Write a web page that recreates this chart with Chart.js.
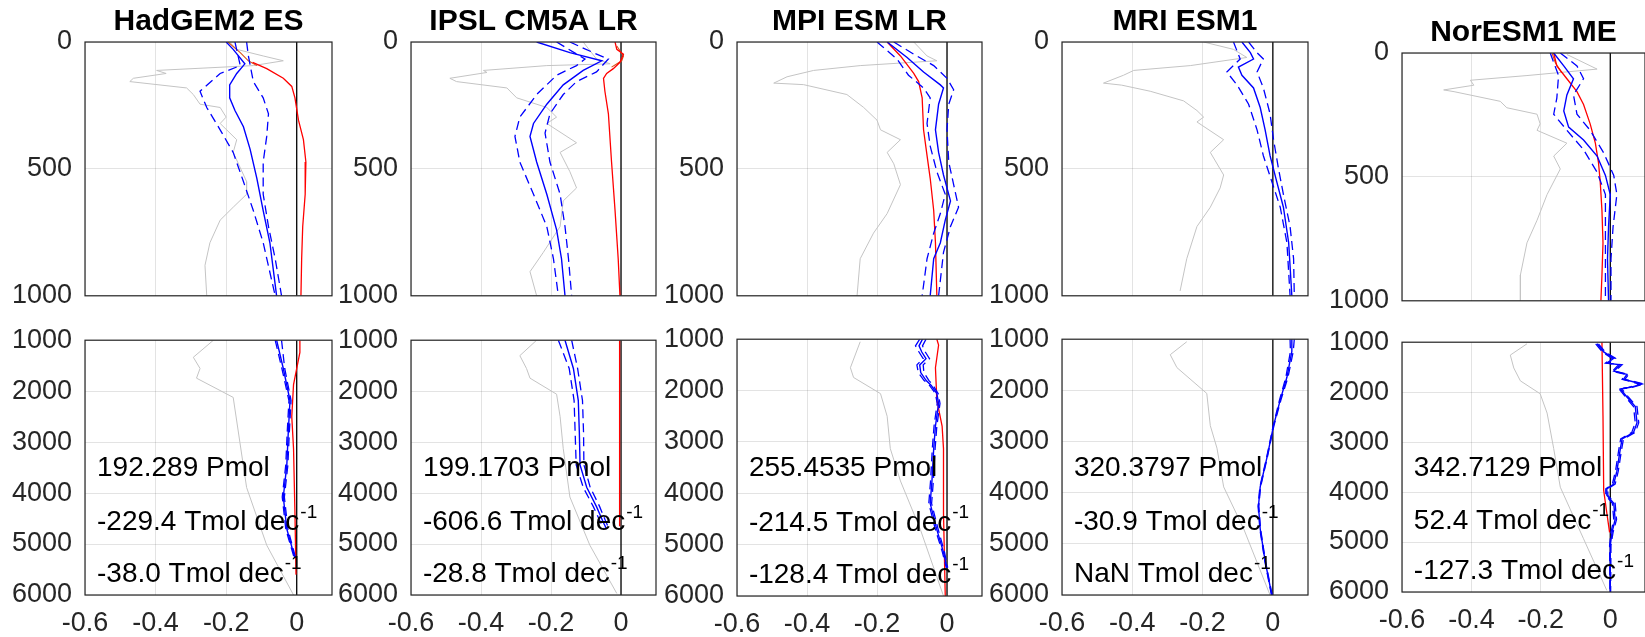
<!DOCTYPE html>
<html>
<head>
<meta charset="utf-8">
<script src="https://cdn.jsdelivr.net/npm/chart.js@4.4.1/dist/chart.umd.min.js"></script>
<style>
  body { margin: 0; background: #fff; width: 1645px; height: 637px; overflow: hidden; position: relative; }
  canvas { position: absolute; }
</style>
</head>
<body>
<script>
/* ===== DATA ===== */
// every profile is a list of [value, depth] pairs

const models = ['HadGEM2 ES', 'IPSL CM5A LR', 'MPI ESM LR', 'MRI ESM1', 'NorESM1 ME'];
const inventories = ['192.289', '199.1703', '255.4535', '320.3797', '342.7129'];
const trendsUpper = ['-229.4', '-606.6', '-214.5', '-30.9', '52.4'];
const trendsLower = ['-38.0', '-28.8', '-128.4', 'NaN', '-127.3'];

const xTicks = [-0.6, -0.4, -0.2, 0];
const depthTicksTop = [0, 500, 1000];
const depthTicksBottom = [1000, 2000, 3000, 4000, 5000, 6000];
const noteX = -0.566;
const noteDepths = [3520, 4580, 5590];

const zeroTop = [[0, 0], [0, 1000]];
const zeroBot = [[0, 1000], [0, 6000]];

// HadGEM2 ES
const hadGrayTop = [[-0.19,0],[-0.17,29],[-0.095,55],[-0.038,74],[-0.123,93],[-0.397,112],[-0.37,124],[-0.463,143],[-0.473,156],[-0.312,181],[-0.293,207],[-0.274,245],[-0.217,258],[-0.2,296],[-0.217,321],[-0.17,385],[-0.18,435],[-0.142,550],[-0.142,600],[-0.18,651],[-0.217,702],[-0.246,791],[-0.26,880],[-0.255,1000]];
const hadOrangeTop = [[-0.195,0],[-0.16,42],[-0.137,74],[-0.113,93]];
const hadRedTop = [[-0.125,80],[-0.085,105],[-0.038,143],[-0.014,175],[-0.005,220],[0.005,308],[0.019,385],[0.026,473],[0.024,600],[0.017,727],[0.014,854],[0.012,1000]];
const hadBlueTop = [[-0.2,0],[-0.18,29],[-0.147,86],[-0.17,124],[-0.19,169],[-0.19,220],[-0.175,270],[-0.151,334],[-0.132,423],[-0.113,537],[-0.095,664],[-0.076,791],[-0.057,1000]];
const hadLowTop = [[-0.175,0],[-0.16,93],[-0.217,124],[-0.274,194],[-0.255,258],[-0.217,346],[-0.18,435],[-0.151,550],[-0.123,664],[-0.095,791],[-0.061,1000]];
const hadHighTop = [[-0.142,0],[-0.137,55],[-0.123,156],[-0.095,220],[-0.08,283],[-0.085,372],[-0.095,473],[-0.095,600],[-0.08,727],[-0.061,854],[-0.043,1000]];
const hadGrayBot = [[-0.236,1000],[-0.293,1335],[-0.274,1555],[-0.284,1745],[-0.18,2122],[-0.161,3005],[-0.142,3890],[-0.085,5023],[-0.009,6000]];
const hadRedBot = [[0.009,1000],[0.009,1240],[-0.009,1870],[-0.014,2500],[-0.009,3130],[-0.005,4390],[-0.002,5600]];
const hadBlueBot = [[-0.057,1000],[-0.038,1555],[-0.019,2185],[-0.024,2815],[-0.028,3446],[-0.038,4077],[-0.028,4707],[-0.005,5275]];
const hadLowBot = [[-0.061,1000],[-0.042,1555],[-0.022,2185],[-0.027,2815],[-0.031,3446],[-0.041,4077],[-0.031,4707],[-0.007,5275]];
const hadHighBot = [[-0.043,1000],[-0.034,1555],[-0.016,2185],[-0.021,2815],[-0.025,3446],[-0.035,4077],[-0.025,4707],[-0.003,5275]];

// IPSL CM5A LR
const ipslGrayTop = [[-0.108,0],[-0.07,67],[-0.031,86],[-0.212,93],[-0.393,112],[-0.383,120],[-0.489,143],[-0.47,156],[-0.326,181],[-0.298,220],[-0.212,258],[-0.184,296],[-0.212,321],[-0.127,397],[-0.174,435],[-0.146,511],[-0.127,575],[-0.165,626],[-0.174,727],[-0.222,829],[-0.26,905],[-0.241,1000]];
const ipslOrangeTop = [[-0.012,16],[0.007,55],[0.002,74],[-0.027,99]];
const ipslRedTop = [[-0.017,0],[-0.012,29],[0.007,48],[-0.003,80],[-0.022,105],[-0.041,124],[-0.05,143],[-0.046,194],[-0.036,283],[-0.027,473],[-0.017,664],[-0.008,854],[-0.003,1000]];
const ipslBlueTop = [[-0.241,0],[-0.146,42],[-0.055,74],[-0.108,112],[-0.165,169],[-0.212,245],[-0.25,321],[-0.26,372],[-0.241,473],[-0.212,600],[-0.184,740],[-0.17,854],[-0.16,1000]];
const ipslLowTop = [[-0.184,0],[-0.103,67],[-0.127,93],[-0.184,131],[-0.241,207],[-0.289,296],[-0.303,372],[-0.289,473],[-0.25,600],[-0.212,727],[-0.193,854],[-0.179,1000]];
const ipslHighTop = [[-0.146,0],[-0.079,42],[-0.036,67],[-0.07,118],[-0.127,156],[-0.165,207],[-0.203,283],[-0.217,359],[-0.203,473],[-0.174,600],[-0.16,727],[-0.15,854],[-0.141,1000]];
const ipslGrayBot = [[-0.241,1000],[-0.289,1303],[-0.27,1555],[-0.26,1745],[-0.184,2060],[-0.174,2500],[-0.165,3130],[-0.146,4077],[-0.089,5023],[-0.012,5970]];
const ipslRedBot = [[-0.004,1000],[-0.004,4650]];
const ipslBlueBot = [[-0.16,1000],[-0.136,1555],[-0.122,2185],[-0.119,2815],[-0.117,3446],[-0.098,3887],[-0.07,4266],[-0.05,4581],[-0.041,4707]];
const ipslLowBot = [[-0.179,1000],[-0.148,1555],[-0.134,2185],[-0.131,2815],[-0.128,3446],[-0.108,3887],[-0.079,4266],[-0.058,4581],[-0.048,4707]];
const ipslHighBot = [[-0.141,1000],[-0.124,1555],[-0.11,2185],[-0.107,2815],[-0.106,3446],[-0.088,3887],[-0.061,4266],[-0.042,4581],[-0.034,4707]];

// MPI ESM LR
const mpiGrayTop = [[-0.095,0],[-0.057,55],[-0.029,74],[-0.248,93],[-0.381,112],[-0.457,137],[-0.495,162],[-0.41,168],[-0.286,207],[-0.238,258],[-0.2,308],[-0.19,346],[-0.133,385],[-0.171,435],[-0.152,480],[-0.133,562],[-0.171,676],[-0.21,753],[-0.248,854],[-0.257,1000]];
const mpiRedTop = [[-0.171,0],[-0.133,55],[-0.095,124],[-0.081,156],[-0.071,220],[-0.067,346],[-0.057,448],[-0.048,537],[-0.038,664],[-0.033,791],[-0.029,1000]];
const mpiBlueTop = [[-0.171,0],[-0.114,61],[-0.067,118],[-0.019,169],[-0.01,181],[-0.024,245],[-0.033,346],[-0.024,435],[-0.01,524],[0.01,626],[-0.005,702],[-0.019,791],[-0.038,854],[-0.048,1000]];
const mpiLowTop = [[-0.2,0],[-0.143,67],[-0.11,131],[-0.067,181],[-0.048,220],[-0.057,321],[-0.048,410],[-0.029,511],[-0.005,600],[-0.019,676],[-0.038,753],[-0.057,854],[-0.071,1000]];
const mpiHighTop = [[-0.152,0],[-0.095,48],[-0.038,93],[0,143],[0.019,188],[0.005,245],[0,346],[0.005,473],[0.019,562],[0.033,651],[0.01,727],[-0.01,829],[-0.024,1000]];
const mpiGrayBot = [[-0.248,1050],[-0.276,1555],[-0.267,1745],[-0.19,2060],[-0.171,2500],[-0.162,3130],[-0.133,3760],[-0.076,4707],[-0.01,6000]];
const mpiRedBot = [[-0.029,1000],[-0.024,1113],[-0.033,1555],[-0.029,2185],[-0.014,2690],[-0.01,3130],[-0.01,4390],[-0.005,6000]];
const mpiBlueBot = [[-0.07,1000],[-0.08,1130],[-0.072,1250],[-0.06,1380],[-0.078,1500],[-0.075,1650],[-0.06,1800],[-0.045,1900],[-0.029,2060],[-0.024,2250],[-0.033,2690],[-0.038,3130],[-0.043,3760],[-0.048,4200],[-0.029,4707],[-0.01,5150],[0,5450]];
const mpiLowBot = [[-0.078,1000],[-0.09,1130],[-0.08,1250],[-0.068,1380],[-0.086,1500],[-0.082,1650],[-0.066,1800],[-0.05,1900],[-0.033,2060],[-0.028,2250],[-0.037,2690],[-0.042,3130],[-0.047,3760],[-0.052,4200],[-0.033,4707],[-0.013,5150],[-0.002,5450]];
const mpiHighBot = [[-0.06,1000],[-0.07,1130],[-0.062,1250],[-0.05,1380],[-0.068,1500],[-0.066,1650],[-0.052,1800],[-0.04,1900],[-0.025,2060],[-0.02,2250],[-0.029,2690],[-0.034,3130],[-0.039,3760],[-0.044,4200],[-0.025,4707],[-0.007,5150],[0.002,5450]];

// MRI ESM1
const mriGrayTop = [[-0.197,0],[-0.112,29],[-0.074,61],[-0.235,93],[-0.396,112],[-0.425,131],[-0.482,162],[-0.43,170],[-0.349,194],[-0.254,232],[-0.216,270],[-0.197,296],[-0.216,315],[-0.14,385],[-0.178,435],[-0.14,524],[-0.15,575],[-0.178,651],[-0.216,727],[-0.245,854],[-0.264,981]];
const mriBlueTop = [[-0.088,0],[-0.064,42],[-0.055,67],[-0.098,99],[-0.088,131],[-0.055,181],[-0.036,258],[-0.022,346],[-0.008,448],[0.011,550],[0.03,651],[0.045,791],[0.054,1000]];
const mriLowTop = [[-0.112,0],[-0.093,67],[-0.131,118],[-0.102,169],[-0.069,245],[-0.045,346],[-0.027,448],[-0.003,550],[0.021,651],[0.04,791],[0.049,1000]];
const mriHighTop = [[-0.069,0],[-0.045,42],[-0.027,67],[-0.045,118],[-0.027,181],[-0.008,283],[0.002,385],[0.016,499],[0.03,600],[0.049,727],[0.059,854],[0.061,1000]];
const mriGrayBot = [[-0.245,1050],[-0.292,1303],[-0.273,1555],[-0.188,2060],[-0.178,2690],[-0.159,3130],[-0.14,3887],[-0.083,4707],[-0.008,6000]];
const mriBlueBot = [[0.054,1000],[0.054,1240],[0.04,1745],[0.021,2185],[0.002,2690],[-0.017,3320],[-0.036,3887],[-0.041,4266],[-0.036,4707],[-0.022,5338],[-0.003,6000]];
const mriLowBot = [[0.049,1000],[0.05,1240],[0.037,1745],[0.019,2185],[0.001,2690],[-0.018,3320],[-0.037,3887],[-0.042,4266],[-0.037,4707],[-0.023,5338],[-0.004,6000]];
const mriHighBot = [[0.061,1000],[0.058,1240],[0.043,1745],[0.023,2185],[0.003,2690],[-0.016,3320],[-0.035,3887],[-0.04,4266],[-0.035,4707],[-0.021,5338],[-0.002,6000]];

// NorESM1 ME
const norGrayTop = [[-0.125,6],[-0.038,65],[-0.24,91],[-0.403,110],[-0.393,130],[-0.48,149],[-0.45,156],[-0.317,195],[-0.298,221],[-0.211,247],[-0.202,286],[-0.211,312],[-0.125,364],[-0.163,416],[-0.144,468],[-0.182,571],[-0.211,675],[-0.24,766],[-0.259,896],[-0.259,1000]];
const norOrangeTop = [[-0.168,0],[-0.158,40],[-0.14,80]];
const norRedTop = [[-0.163,0],[-0.154,52],[-0.125,104],[-0.096,156],[-0.077,208],[-0.058,286],[-0.043,364],[-0.034,442],[-0.029,519],[-0.024,636],[-0.021,766],[-0.024,896],[-0.027,1000]];
const norBlueTop = [[-0.163,0],[-0.134,52],[-0.106,104],[-0.125,169],[-0.134,234],[-0.12,299],[-0.077,351],[-0.038,416],[-0.014,494],[0,571],[-0.005,701],[-0.008,831],[-0.005,1000]];
const norLowTop = [[-0.173,0],[-0.149,91],[-0.154,182],[-0.163,247],[-0.125,312],[-0.077,390],[-0.038,481],[-0.014,571],[-0.014,701],[-0.014,831],[-0.014,1000]];
const norHighTop = [[-0.144,0],[-0.096,52],[-0.077,104],[-0.106,169],[-0.096,247],[-0.058,312],[-0.019,403],[0.01,494],[0.019,571],[0.008,701],[0.002,831],[0.002,1000]];
const norGrayBot = [[-0.24,1032],[-0.288,1258],[-0.278,1516],[-0.259,1774],[-0.202,2032],[-0.182,2419],[-0.163,3129],[-0.144,3903],[-0.077,4935],[-0.01,5968]];
const norRedBot = [[-0.024,1000],[-0.021,2484],[-0.019,3968],[-0.01,4419],[-0.002,4806]];
const norBlueBot = [[-0.038,1032],[-0.019,1194],[0.01,1323],[-0.01,1419],[0.029,1452],[0.01,1581],[0.048,1645],[0.038,1742],[0.091,1839],[0.058,1903],[0.029,1935],[0.048,2097],[0.072,2290],[0.077,2613],[0.067,2806],[0.034,2935],[0.029,3129],[0.019,3581],[0.01,3839],[-0.01,3935],[-0.01,4065],[0.01,4226],[0.014,4548],[0.005,4806],[0,5065],[0,6000]];
const norLowBot = [[-0.042,1032],[-0.023,1194],[0.005,1323],[-0.014,1419],[0.024,1452],[0.006,1581],[0.043,1645],[0.034,1742],[0.085,1839],[0.053,1903],[0.025,1935],[0.044,2097],[0.067,2290],[0.072,2613],[0.062,2806],[0.03,2935],[0.025,3129],[0.015,3581],[0.006,3839],[-0.013,3935],[-0.013,4065],[0.006,4226],[0.01,4548],[0.002,4806],[-0.002,5065],[-0.001,6000]];
const norHighBot = [[-0.034,1032],[-0.015,1194],[0.015,1323],[-0.006,1419],[0.034,1452],[0.014,1581],[0.053,1645],[0.042,1742],[0.097,1839],[0.063,1903],[0.033,1935],[0.052,2097],[0.077,2290],[0.082,2613],[0.072,2806],[0.038,2935],[0.033,3129],[0.023,3581],[0.014,3839],[-0.007,3935],[-0.007,4065],[0.014,4226],[0.018,4548],[0.008,4806],[0.002,5065],[0.001,6000]];

// which profiles go in which panel
const panelSeries = [
    { top: [hadGrayTop, hadOrangeTop, hadRedTop, hadLowTop, hadHighTop, hadBlueTop], bot: [hadGrayBot, null, hadRedBot, hadLowBot, hadHighBot, hadBlueBot] },
    { top: [ipslGrayTop, ipslOrangeTop, ipslRedTop, ipslLowTop, ipslHighTop, ipslBlueTop], bot: [ipslGrayBot, null, ipslRedBot, ipslLowBot, ipslHighBot, ipslBlueBot] },
    { top: [mpiGrayTop, null, mpiRedTop, mpiLowTop, mpiHighTop, mpiBlueTop], bot: [mpiGrayBot, null, mpiRedBot, mpiLowBot, mpiHighBot, mpiBlueBot] },
    { top: [mriGrayTop, null, null, mriLowTop, mriHighTop, mriBlueTop], bot: [mriGrayBot, null, null, mriLowBot, mriHighBot, mriBlueBot] },
    { top: [norGrayTop, norOrangeTop, norRedTop, norLowTop, norHighTop, norBlueTop], bot: [norGrayBot, null, norRedBot, norLowBot, norHighBot, norBlueBot] }
];

/* ===== LAYOUT ===== */
const fontFamily = "'Liberation Sans', Arial, Helvetica, sans-serif";
const plotLeft = [85, 411, 737, 1062, 1402];
const zeroPx = [297, 621, 947, 1273, 1610];
const topRowY = [[42, 305], [42, 305], [42, 305], [42, 305], [53, 310]];
const botRowY = [[331, 595], [331, 595], [330, 596], [330, 595], [333, 592]];
const axisW = 85;

// Caja estilo matlab alrededor del área
const boxPlugin = {
    id: 'box',
    afterDatasetsDraw(chart) {
        const { ctx, chartArea: a } = chart;
        ctx.save();
        ctx.strokeStyle = '#262626';
        ctx.lineWidth = 1.2;
        ctx.strokeRect(a.left, a.top, a.right - a.left, a.bottom - a.top);
        ctx.restore();
    }
};

// Textos de inventario y tendencias
const notesPlugin = {
    id: 'notes',
    afterDatasetsDraw(chart, args, opts) {
        if (!opts.lines) return;
        const { ctx, scales } = chart;
        const x0 = scales.x.getPixelForValue(noteX);
        ctx.save();
        ctx.fillStyle = '#000';
        ctx.textBaseline = 'middle';
        ctx.textAlign = 'left';
        opts.lines.forEach((txt, k) => {
            const y = scales.y.getPixelForValue(noteDepths[k]);
            ctx.font = `28px ${fontFamily}`;
            ctx.fillText(txt, x0, y);
            if (k > 0) {
                const w = ctx.measureText(txt).width;
                ctx.font = `19px ${fontFamily}`;
                ctx.fillText('-1', x0 + w + 1, y - 10);
            }
        });
        ctx.restore();
    }
};

function profile(pts, color, width, dash) {
    return {
        data: pts.map(([x, y]) => ({ x, y })),
        borderColor: color,
        borderWidth: width,
        borderDash: dash || [],
        showLine: true,
        pointRadius: 0,
        fill: false,
        tension: 0
    };
}

function buildPanel(i, isTop) {
    const [plotTop, plotBottom] = isTop ? topRowY[i] : botRowY[i];
    const plotW = Math.round((zeroPx[i] - plotLeft[i]) / 0.6 * 0.7);
    const headH = isTop ? 42 : 20;
    const footH = isTop ? 20 : 42;

    const canvas = document.createElement('canvas');
    canvas.width = axisW + plotW + 2;
    canvas.height = headH + (plotBottom - plotTop) + footH;
    canvas.style.left = (plotLeft[i] - axisW) + 'px';
    canvas.style.top = (plotTop - headH) + 'px';
    document.body.appendChild(canvas);

    const s = isTop ? panelSeries[i].top : panelSeries[i].bot;
    // el primer dataset se dibuja encima
    const datasets = [];
    if (s[5]) datasets.push(profile(s[5], '#0000ff', 1.4));
    if (s[4]) datasets.push(profile(s[4], '#0000ff', 1.3, [9, 5]));
    if (s[3]) datasets.push(profile(s[3], '#0000ff', 1.3, [9, 5]));
    if (s[2]) datasets.push(profile(s[2], '#ff0000', 1.3));
    if (s[1]) datasets.push(profile(s[1], '#d95319', 1.1));
    datasets.push(profile(isTop ? zeroTop : zeroBot, '#000000', 1.3));
    if (s[0]) datasets.push(profile(s[0], '#c4c4c4', 1));

    const depthTicks = isTop ? depthTicksTop : depthTicksBottom;

    new Chart(canvas, {
        type: 'scatter',
        data: { datasets },
        plugins: [boxPlugin, notesPlugin],
        options: {
            responsive: false,
            animation: false,
            events: [],
            layout: { padding: { top: isTop ? 0 : headH, right: 2, left: 0, bottom: 0 } },
            plugins: {
                legend: { display: false },
                tooltip: { enabled: false },
                title: {
                    display: isTop,
                    fullSize: false,
                    text: models[i],
                    color: '#000',
                    font: { family: fontFamily, size: 30, weight: 'bold', lineHeight: 1.2 },
                    padding: { top: 4, bottom: 2 }
                },
                notes: {
                    lines: isTop ? null : [
                        inventories[i] + ' Pmol',
                        trendsUpper[i] + ' Tmol dec',
                        trendsLower[i] + ' Tmol dec'
                    ]
                }
            },
            scales: {
                x: {
                    type: 'linear',
                    min: -0.6,
                    max: 0.1,
                    afterBuildTicks: sc => { sc.ticks = xTicks.map(v => ({ value: v })); },
                    afterFit: sc => { sc.height = footH; },
                    border: { display: false },
                    grid: { color: 'rgba(0,0,0,0.11)', drawTicks: false },
                    ticks: {
                        display: !isTop,
                        padding: 12,
                        color: '#262626',
                        font: { family: fontFamily, size: 27 },
                        callback: v => String(Number(v.toFixed(1)))
                    }
                },
                y: {
                    type: 'linear',
                    reverse: true,
                    min: depthTicks[0],
                    max: depthTicks[depthTicks.length - 1],
                    afterBuildTicks: sc => { sc.ticks = depthTicks.map(v => ({ value: v })); },
                    afterFit: sc => { sc.width = axisW; },
                    border: { display: false },
                    grid: { color: 'rgba(0,0,0,0.11)', drawTicks: false },
                    ticks: {
                        padding: 13,
                        color: '#262626',
                        font: { family: fontFamily, size: 27 },
                        callback: v => String(v)
                    }
                }
            }
        }
    });
}

for (let i = 0; i < models.length; i++) {
    buildPanel(i, true);
    buildPanel(i, false);
}
</script>
</body>
</html>
